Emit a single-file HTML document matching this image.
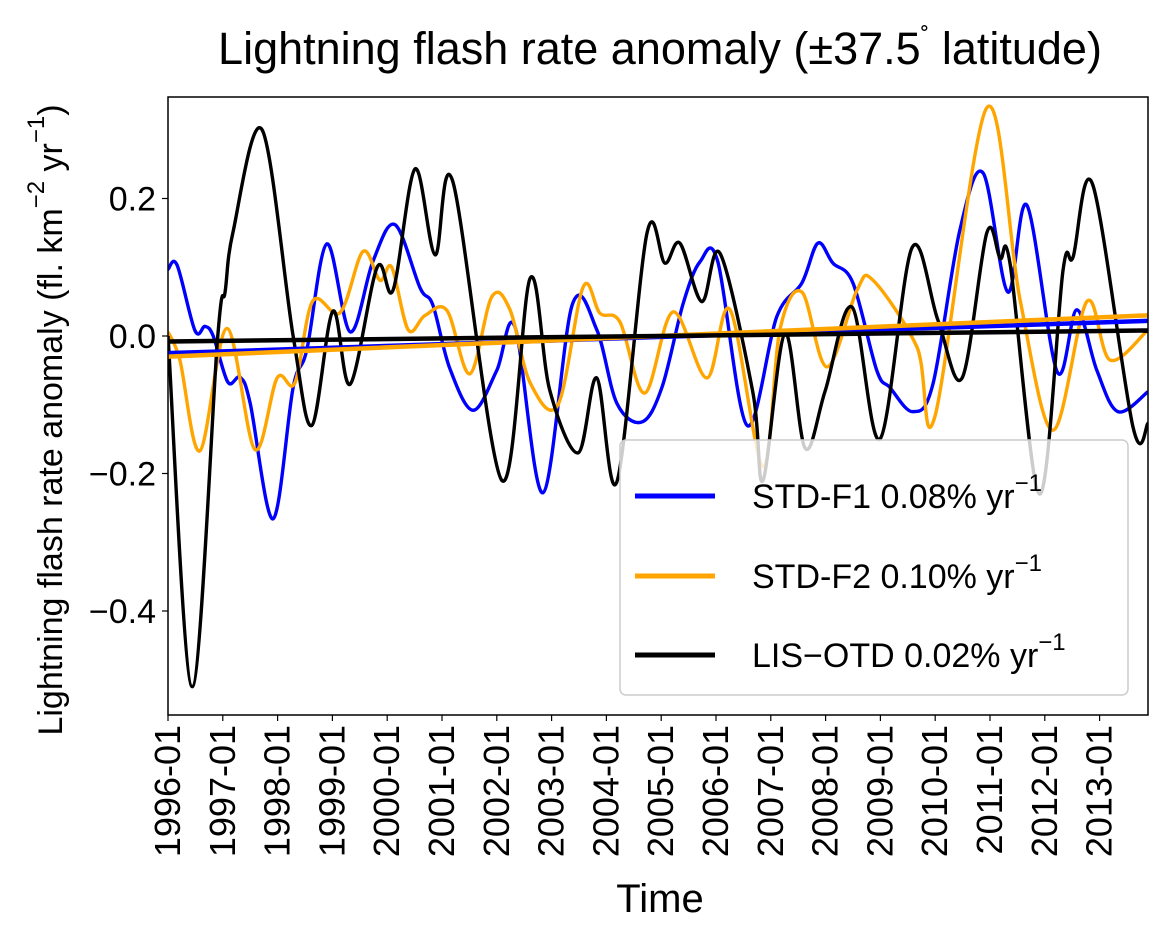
<!DOCTYPE html>
<html><head><meta charset="utf-8"><style>
body{margin:0;background:#fff;}
svg{display:block;font-family:"Liberation Sans",Arial,sans-serif;}
</style></head><body>
<svg id="chart" width="1163" height="927">
<text x="660" y="64" font-size="45" text-anchor="middle">Lightning flash rate anomaly (±37.5<tspan dy="-18" font-size="26">˚</tspan><tspan dy="18"> latitude)</tspan></text>
<text transform="translate(62,420) rotate(-90)" font-size="34" text-anchor="middle">Lightning flash rate anomaly (fl. km<tspan dy="-18" font-size="24">−2</tspan><tspan dy="18"> yr</tspan><tspan dy="-18" font-size="24">−1</tspan><tspan dy="18">)</tspan></text>
<text x="660" y="912" font-size="40" text-anchor="middle">Time</text>
<g id="plot"></g>
<g id="axes"></g>
<g>
<rect x="620" y="440" width="508" height="255" rx="6" fill="rgba(255,255,255,0.8)" stroke="#ccc" stroke-width="1.5"/>
<line x1="635" y1="496" x2="715" y2="496" stroke="#0000ff" stroke-width="5"/>
<text x="752" y="508" font-size="34">STD-F1 0.08% yr<tspan dy="-17" font-size="24">−1</tspan></text>
<line x1="635" y1="576" x2="715" y2="576" stroke="#ffa500" stroke-width="5"/>
<text x="752" y="588" font-size="34">STD-F2 0.10% yr<tspan dy="-17" font-size="24">−1</tspan></text>
<line x1="635" y1="655" x2="715" y2="655" stroke="#000" stroke-width="5"/>
<text x="752" y="667" font-size="34">LIS−OTD 0.02% yr<tspan dy="-17" font-size="24">−1</tspan></text>
</g>
</svg>
<script>
// months since 1996-01
const blackM=[0,5.3,10.9,12.5,14.2,20.6,27.4,31.5,36.1,39.9,45.8,49.3,54.1,58.5,62.4,73.1,79.3,83.6,89.8,93.9,98.3,104.9,108.8,112.1,116.9,120.9,128.1,130.3,135.1,139.5,143.9,149.8,155.9,162.9,168.6,173.9,179.3,182.2,184.4,190.9,196.0,198.2,202.5,211.3,214.6];
const blackV=[0,-0.51,0,0.064,0.15,0.30,0,-0.13,0.036,-0.07,0.10,0.067,0.243,0.118,0.224,-0.21,0.084,-0.079,-0.17,-0.061,-0.212,0.15,0.106,0.135,0.05,0.12,-0.083,-0.21,0.004,-0.163,-0.08,0.042,-0.15,0.128,0.023,-0.061,0.15,0.113,0.105,-0.23,0.096,0.115,0.22,-0.132,-0.127];
const blueM=[0,2.0,5.9,8.1,9.9,13.1,15.8,18.0,23.0,27.4,30.4,34.8,39.9,44.9,49.7,55.2,58.0,61.7,66.8,72,76.0,82.1,88.5,93.9,98.3,103.8,108.2,112.8,116.5,120.4,126.8,133.3,138.8,142.3,145.6,150.0,155.2,158.1,163.1,167.5,173.4,178.5,183.9,188.1,194.7,199.0,203.4,208.0,214.6];
const blueV=[0.097,0.103,0.008,0.014,0,-0.067,-0.06,-0.098,-0.266,-0.075,-0.02,0.134,0.006,0.109,0.162,0.07,0.045,-0.047,-0.108,-0.05,0.013,-0.228,0.045,0.009,-0.098,-0.125,-0.074,0.047,0.108,0.108,-0.13,0.028,0.077,0.135,0.106,0.077,-0.05,-0.075,-0.11,-0.07,0.154,0.237,0.064,0.19,-0.052,0.038,-0.05,-0.11,-0.081];
const orangeM=[0,2.6,7.0,12.9,19.0,23.9,27.8,31.7,37.7,42.7,46.4,49.0,52.6,56.3,61.1,66.1,70.9,74.9,79.3,85.4,90.9,94.6,99.0,104.4,110.6,118.0,123.1,130.3,134.0,138.8,144.3,150.9,154.4,164.0,167.9,179.3,186.6,193.8,201.2,206.3,214.6];
const orangeV=[0.006,-0.035,-0.167,0.011,-0.165,-0.061,-0.068,0.051,0.034,0.123,0.081,0.10,0.009,0.03,0.037,-0.055,0.057,0.038,-0.068,-0.1,0.071,0.033,0.02,-0.083,0.035,-0.061,0.038,-0.19,0.009,0.064,-0.045,0.067,0.081,-0.016,-0.118,0.332,0.052,-0.137,0.05,-0.035,0.009];
const trendStart=[-0.025,-0.03,-0.008];
const trendEnd=[0.022,0.03,0.008];
const tickYears=["1996-01","1997-01","1998-01","1999-01","2000-01","2001-01","2002-01","2003-01","2004-01","2005-01","2006-01","2007-01","2008-01","2009-01","2010-01","2011-01","2012-01","2013-01"];
const yTicks=[0.2,0.0,-0.2,-0.4];
const yTickLabels=["0.2","0.0","−0.2","−0.4"];

const L=168,R=1148,T=97,B=715,MMAX=214.6;
const xs=m=>L+m*(R-L)/MMAX;
const ys=v=>336-v*687.5;
const NS='http://www.w3.org/2000/svg';
const plot=document.getElementById('plot'),axes=document.getElementById('axes');
function mk(t,a,p){const e=document.createElementNS(NS,t);for(const k in a)e.setAttribute(k,a[k]);p.appendChild(e);return e;}
function smooth(M,V){const p=M.map((m,i)=>[xs(m),ys(V[i])]);let d='M'+p[0][0]+','+p[0][1];
for(let i=0;i<p.length-1;i++){const p0=p[i-1]||p[i],p1=p[i],p2=p[i+1],p3=p[i+2]||p2;
d+=' C'+(p1[0]+(p2[0]-p0[0])/6)+','+(p1[1]+(p2[1]-p0[1])/6)+' '+(p2[0]-(p3[0]-p1[0])/6)+','+(p2[1]-(p3[1]-p1[1])/6)+' '+p2[0]+','+p2[1];}return d;}
const clip=mk('clipPath',{id:'cp'},plot);mk('rect',{x:L,y:T,width:R-L,height:B-T},clip);
const g=mk('g',{'clip-path':'url(#cp)'},plot);
const series=[[blueM,blueV,'#0000ff','line-std-f1'],[orangeM,orangeV,'#ffa500','line-std-f2'],[blackM,blackV,'#000','line-lis-otd']];
series.forEach((s,i)=>{const e=mk('path',{d:smooth(s[0],s[1]),fill:'none',stroke:s[2],'stroke-width':3.4,'stroke-linejoin':'round'},g);

});
const tn=['trend-std-f1','trend-std-f2','trend-lis-otd'];
series.forEach((s,i)=>{const e=mk('line',{x1:xs(0),y1:ys(trendStart[i]),x2:xs(MMAX),y2:ys(trendEnd[i]),stroke:s[2],'stroke-width':4.5},g);

});
const frame=mk('rect',{x:L,y:T,width:R-L,height:B-T,fill:'none',stroke:'#000','stroke-width':1.5},axes);


tickYears.forEach((t,i)=>{const x=xs(i*12);mk('line',{x1:x,y1:B,x2:x,y2:B+6,stroke:'#000','stroke-width':1.2},axes);
const e=mk('text',{transform:'translate('+(x+12)+','+(B+10)+') rotate(-90)','font-size':36,'text-anchor':'end'},axes);e.textContent=t;

});
yTicks.forEach((v,i)=>{const y=ys(v);mk('line',{x1:L-6,y1:y,x2:L,y2:y,stroke:'#000','stroke-width':1.2},axes);
const e=mk('text',{x:L-12,y:y+12,'font-size':34,'text-anchor':'end'},axes);e.textContent=yTickLabels[i];

});
</script>
</body></html>
